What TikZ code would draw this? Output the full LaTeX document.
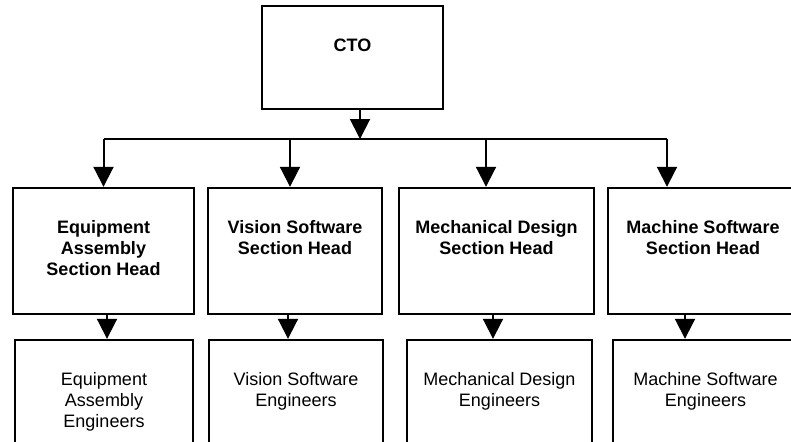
\documentclass[tikz,border=0pt]{standalone}
\usepackage{fontspec}
\setmainfont{Liberation Sans}
\usetikzlibrary{arrows.meta,positioning}

\begin{document}
\begin{tikzpicture}[x=1pt,y=-1pt,
        unit/.style={draw, line width=2.4pt, inner sep=0pt},
        unittxt/.style={align=center, inner sep=0pt, font=\fontsize{18}{21}\selectfont},
        headtxt/.style={unittxt, font=\fontsize{18}{21}\selectfont\bfseries},
        link/.style={line width=2pt},
        feed/.style={link, -{Triangle[width=20pt,length=20pt]}}]
        \useasboundingbox (0,0) rectangle (791,441);
        \clip (0,0) rectangle (791,441);

        % CTO
        \node[unit, minimum width=181pt, minimum height=103pt] (cto) at (352.5,57.5) {};
        \node[headtxt, below=33.5pt of cto.north] (ctotxt) {CTO};

        % Section heads
        \node[unit, minimum width=181pt, minimum height=126pt] (eqhead) at (103.5,251) {};
        \node[unit, minimum width=174pt, minimum height=126pt] (vshead) at (295,251) {};
        \node[unit, minimum width=195pt, minimum height=126pt] (mdhead) at (496.5,251) {};
        \node[unit, minimum width=190pt, minimum height=126pt] (mshead) at (703,251) {};
        \node[headtxt, below=33.5pt of eqhead.north] (eqheadtxt) {Equipment\\Assembly\\Section Head};
        \node[headtxt, below=33.5pt of vshead.north] (vsheadtxt) {Vision Software\\Section Head};
        \node[headtxt, below=33.5pt of mdhead.north] (mdheadtxt) {Mechanical Design\\Section Head};
        \node[headtxt, below=33.5pt of mshead.north] (msheadtxt) {Machine Software\\Section Head};

        % Engineers
        \node[unit, minimum width=178pt, minimum height=126pt] (eqeng) at (104,403) {};
        \node[unit, minimum width=174pt, minimum height=126pt] (vseng) at (296,403) {};
        \node[unit, minimum width=185pt, minimum height=126pt] (mdeng) at (499.5,403) {};
        \node[unit, minimum width=185pt, minimum height=126pt] (mseng) at (705.5,403) {};
        \node[unittxt, below=33.5pt of eqeng.north] (eqengtxt) {Equipment\\Assembly\\Engineers};
        \node[unittxt, below=33.5pt of vseng.north] (vsengtxt) {Vision Software\\Engineers};
        \node[unittxt, below=33.5pt of mdeng.north] (mdengtxt) {Mechanical Design\\Engineers};
        \node[unittxt, below=33.5pt of mseng.north] (msengtxt) {Machine Software\\Engineers};

        % CTO down to the bus
        \coordinate (bus) at (0,139);
        \coordinate (ctoout) at ([xshift=7.5pt]cto.south);
        \draw[feed] (ctoout) -- (ctoout |- bus);

        % bus out to the section heads
        \foreach \n/\dx in {eqhead/0, vshead/-5, mdhead/-10.5, mshead/-36} {
            \coordinate (\n-in) at ([xshift=\dx pt]\n.north);
            \draw[feed] (\n-in |- bus) -- (\n-in);
        }
        \draw[link] (eqhead-in |- bus) -- (mshead-in |- bus);

        % section heads down to their engineers
        \foreach \h/\e/\dx in {eqhead/eqeng/3.5, vshead/vseng/-7, mdhead/mdeng/-3.5, mshead/mseng/-18} {
            \coordinate (\h-out) at ([xshift=\dx pt]\h.south);
            \draw[feed] (\h-out) -- (\h-out |- \e.north);
        }
\end{tikzpicture}
\end{document}
